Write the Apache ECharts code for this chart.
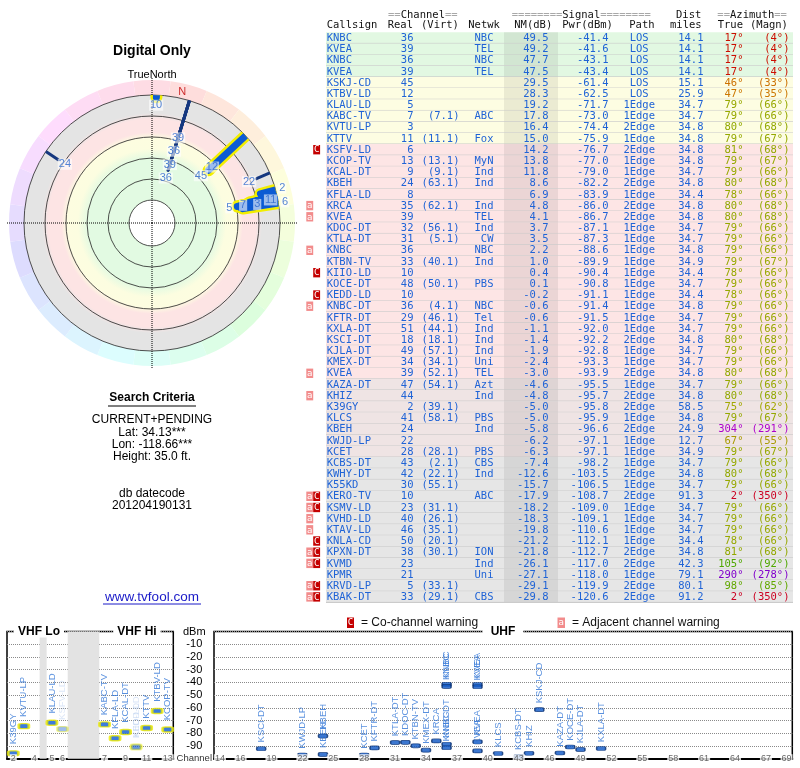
<!DOCTYPE html>
<html>
<head>
<meta charset="utf-8">
<title>Digital Only</title>
<script src="https://cdn.jsdelivr.net/npm/echarts@6/dist/echarts.min.js"></script>
<style>
html, body { margin: 0; padding: 0; background: #fff; }
#chart { width: 800px; height: 768px; }
</style>
</head>
<body>
<div id="chart"></div>
<script>
// one entry per table row, strongest first
var callsigns = ['KNBC','KVEA','KNBC','KVEA','KSKJ-CD','KTBV-LD','KLAU-LD','KABC-TV','KVTU-LP','KTTV',
  'KSFV-LD','KCOP-TV','KCAL-DT','KBEH','KFLA-LD','KRCA','KVEA','KDOC-DT','KTLA-DT','KNBC',
  'KTBN-TV','KIIO-LD','KOCE-DT','KEDD-LD','KNBC-DT','KFTR-DT','KXLA-DT','KSCI-DT','KJLA-DT','KMEX-DT',
  'KVEA','KAZA-DT','KHIZ','K39GY','KLCS','KBEH','KWJD-LP','KCET','KCBS-DT','KWHY-DT',
  'K55KD','KERO-TV','KSMV-LD','KVHD-LD','KTAV-LD','KNLA-CD','KPXN-DT','KVMD','KPMR','KRVD-LP','KBAK-DT'];
var realCh = [36,39,36,39,45,12,5,7,3,11, 6,13,9,24,8,35,39,32,31,36, 33,10,48,10,36,29,51,18,49,34,
  39,47,44,2,41,24,22,28,43,42, 30,10,23,40,46,50,38,23,21,5,33];
var virtCh = ['','','','','','','','7.1','','11.1', '','13.1','9.1','63.1','','62.1','','56.1','5.1','',
  '40.1','','50.1','','4.1','46.1','44.1','18.1','57.1','34.1', '52.1','54.1','','39.1','58.1','','','28.1','2.1','22.1',
  '55.1','','31.1','26.1','35.1','20.1','30.1','','','33.1','29.1'];
var networks = ['NBC','TEL','NBC','TEL','','','','ABC','','Fox', '','MyN','Ind','Ind','','Ind','TEL','Ind','CW','NBC',
  'Ind','','PBS','','NBC','Tel','Ind','Ind','Ind','Uni', 'TEL','Azt','Ind','','PBS','Ind','','PBS','CBS','Ind',
  '','ABC','','','','','ION','Ind','Uni','','CBS'];
var nmDb = [49.5,49.2,47.7,47.5,29.5,28.3,19.2,17.8,16.4,15.0, 14.2,13.8,11.8,8.6,6.9,4.8,4.1,3.7,3.5,2.2,
  1.0,0.4,0.1,-0.2,-0.6,-0.6,-1.1,-1.4,-1.9,-2.4, -3.0,-4.6,-4.8,-5.0,-5.0,-5.8,-6.2,-6.3,-7.4,-12.6,
  -15.7,-17.9,-18.2,-18.3,-19.8,-21.2,-21.8,-26.1,-27.1,-29.1,-29.8];
var pwrDbm = [-41.4,-41.6,-43.1,-43.4,-61.4,-62.5,-71.7,-73.0,-74.4,-75.9, -76.7,-77.0,-79.0,-82.2,-83.9,-86.0,-86.7,-87.1,-87.3,-88.6,
  -89.9,-90.4,-90.8,-91.1,-91.4,-91.5,-92.0,-92.2,-92.8,-93.3, -93.9,-95.5,-95.7,-95.8,-95.9,-96.6,-97.1,-97.1,-98.2,-103.5,
  -106.5,-108.7,-109.0,-109.1,-110.6,-112.1,-112.7,-117.0,-118.0,-119.9,-120.6];
var paths = ['LOS','LOS','LOS','LOS','LOS','LOS','1Edge','1Edge','2Edge','1Edge',
  '2Edge','1Edge','1Edge','2Edge','1Edge','2Edge','2Edge','1Edge','1Edge','1Edge',
  '1Edge','1Edge','1Edge','1Edge','1Edge','1Edge','1Edge','2Edge','1Edge','1Edge',
  '2Edge','1Edge','2Edge','2Edge','1Edge','2Edge','1Edge','1Edge','1Edge','2Edge',
  '1Edge','2Edge','1Edge','1Edge','1Edge','1Edge','2Edge','2Edge','1Edge','2Edge','2Edge'];
var distMi = [14.1,14.1,14.1,14.1,15.1,25.9,34.7,34.7,34.8,34.8, 34.8,34.8,34.7,34.8,34.4,34.8,34.8,34.7,34.7,34.8,
  34.9,34.4,34.7,34.4,34.8,34.7,34.7,34.8,34.7,34.7, 34.8,34.7,34.8,58.5,34.8,24.9,12.7,34.9,34.7,34.8,
  34.7,91.3,34.7,34.7,34.7,34.4,34.8,42.3,79.1,80.1,91.2];
var azTrue = [17,17,17,17,46,47,79,79,80,79, 81,79,79,80,78,80,80,79,79,79, 79,78,79,78,79,79,79,80,79,79,
  80,79,80,75,79,304,67,79,79,80, 79,2,79,79,79,78,81,105,290,98,2];
var azMagn = [4,4,4,4,33,35,66,66,68,67, 68,67,66,68,66,68,68,66,66,66, 67,66,66,66,66,66,66,68,66,66,
  68,66,68,62,67,291,55,67,66,68, 66,350,66,66,66,66,68,92,278,85,350];
var warnings = ['','','','','','','','','','', 'C','','','','','a','a','','','a', '','C','','C','a','','','','','',
  'a','','a','','','','','','','', '','aC','aC','a','a','C','aC','aC','','aC','aC'];

// channel labels printed along the spectrum axes
var vhfTicks = [2,4,5,6,7,9,11,13];
var uhfTicks = [14,16,19,22,25,28,31,34,37,40,43,46,49,52,55,58,61,64,67,69];

var DECL = 13;       // magnetic declination (deg)
var FLOOR_NM = -20;  // weakest NM shown on the radar
var GAP = 18;        // width given to the 88-174 MHz hole on the VHF axis

var BLUE = '#1f63d6';
var mono = '10.5px "DejaVu Sans Mono", monospace';
var sans = '"Liberation Sans", Arial, sans-serif';

function rpx(nm) { return 23 + (80 - nm) * 1.05; }   // same scale as radiusAxis 0
function vhfPos(ch) {
  var f = ch <= 4 ? 57 + 6 * (ch - 2) : ch <= 6 ? 79 + 6 * (ch - 5) : 177 + 6 * (ch - 7);
  return f <= 88 ? f : f - 174 + 88 + GAP;
}
function rowFill(nm) {
  if (nm >= 40) return '#e2f8e2';
  if (nm >= 14.5) return '#fdfde2';
  if (nm >= -3.5) return '#fde5e5';
  if (nm >= -7) return '#efe4e4';
  return '#e6e6e6';
}
function azColor(m) {
  var l = (m < 40 || m > 200) ? 40 : 33;
  return 'hsl(' + m + ',100%,' + l + '%)';
}

var chart = echarts.init(document.getElementById('chart'));

// ---------- table rows ----------
function renderRow(params, api) {
  var i = params.dataIndex;
  var yc = api.coord([0, i])[1];
  var h = api.size([0, 1])[1];
  var top = yc - h / 2;
  function X(v) { return api.coord([v, i])[0]; }
  function txt(s, x, align, color, font) {
    return { type: 'text', x: x, y: yc + 0.5, style: { text: s, fill: color || BLUE, font: font || mono,
      textAlign: align, align: align, textVerticalAlign: 'middle', verticalAlign: 'middle' } };
  }
  var kids = [
    { type: 'rect', shape: { x: X(326), y: top, width: X(793) - X(326), height: h }, style: { fill: rowFill(nmDb[i]) } },
    { type: 'rect', shape: { x: X(504), y: top, width: X(558) - X(504), height: h }, style: { fill: 'rgba(60,60,60,0.09)' } },
    { type: 'line', shape: { x1: X(326), y1: top + h, x2: X(793), y2: top + h }, style: { stroke: '#c8c8c8', lineWidth: 1 } },
    txt(callsigns[i], X(326.7), 'left'),
    txt(String(realCh[i]), X(413.5), 'right'),
    txt(virtCh[i] ? '(' + virtCh[i] + ')' : '', X(459.5), 'right'),
    txt(networks[i], X(493.5), 'right'),
    txt(nmDb[i].toFixed(1), X(548.5), 'right'),
    txt(pwrDbm[i].toFixed(1), X(608.5), 'right'),
    txt(paths[i], X(639.2), 'center'),
    txt(distMi[i].toFixed(1), X(703.5), 'right'),
    txt(azTrue[i] + '\u00b0', X(743.5), 'right', azColor(azMagn[i])),
    txt('(' + azMagn[i] + '\u00b0)', X(789.5), 'right', azColor(azMagn[i]))
  ];
  var w = warnings[i];
  if (w.indexOf('a') >= 0) {
    kids.push({ type: 'rect', shape: { x: X(306.3), y: yc - 4.6, width: 6.9, height: 9.4 }, style: { fill: '#f28c8c' } });
    kids.push(txt('a', X(309.7), 'center', '#fff', '9px "DejaVu Sans Mono"'));
  }
  if (w.indexOf('C') >= 0) {
    kids.push({ type: 'rect', shape: { x: X(313.2), y: yc - 4.6, width: 6.9, height: 9.4 }, style: { fill: '#c40000' } });
    kids.push(txt('C', X(316.7), 'center', '#fff', '9px "DejaVu Sans Mono"'));
  }
  return { type: 'group', children: kids };
}

// ---------- radar ----------
var drawn = [];
nmDb.forEach(function (v, i) { if (v >= FLOOR_NM) drawn.push(i); });

var radarSeries = [];
function polarLine(data, color, width, z) {
  return { type: 'line', coordinateSystem: 'polar', polarIndex: 0, data: data, symbol: 'none', silent: true,
    z: z, lineStyle: { color: color, width: width, cap: 'round' } };
}
drawn.forEach(function (i) {
  var d = [[nmDb[i], azTrue[i]], [FLOOR_NM, azTrue[i]]];
  if (realCh[i] <= 13) {
    radarSeries.push(polarLine(d, '#f2ee00', 12, 11));
    radarSeries.push(polarLine(d, '#0c5bd3', 7, 12));
  } else {
    radarSeries.push(polarLine(d, '#15377f', 3, 10));
  }
});

// channel numbers at the inner end of each ray, pushed outward when they collide
var placed = [];
drawn.forEach(function (i) {
  var r = rpx(nmDb[i]) - 8, moved = true;
  while (moved) {
    moved = false;
    placed.forEach(function (p) {
      if (Math.abs(p.az - azTrue[i]) < 6 && Math.abs(p.r - r) < 13) { r = p.r + 14; moved = true; }
    });
  }
  if (r <= 136) placed.push({ r: r, az: azTrue[i], ch: realCh[i] });
});

var hueSlices = [];
for (var k = 0; k < 24; k++) {
  hueSlices.push({ value: 1, itemStyle: { color: 'hsl(' + ((k * 15 - DECL + 360) % 360) + ',95%,93%)' } });
}

// ---------- spectrum ----------
var vhfMarks = [], uhfMarks = [];
callsigns.forEach(function (cs, i) {
  if (pwrDbm[i] < -100) return;
  var vhf = realCh[i] <= 13;
  var item = { name: cs, value: [vhf ? vhfPos(realCh[i]) : realCh[i], pwrDbm[i]] };
  if (warnings[i].indexOf('C') >= 0) {
    item.itemStyle = { opacity: 0.4 };
    item.label = { color: '#a6c0ea' };
  }
  (vhf ? vhfMarks : uhfMarks).push(item);
});

function specLabel(d) {
  return { show: true, formatter: '{b}', position: 'top', distance: d, rotate: 90, align: 'left',
    verticalAlign: 'middle', fontSize: 9.5, fontFamily: sans, color: '#2f74d6' };
}
function tickSeries(xi, ticks, pos) {
  return { type: 'scatter', xAxisIndex: xi, yAxisIndex: xi, silent: true, z: 20,
    data: ticks.map(function (c) { return [pos(c), -100, c]; }),
    symbolSize: 1, itemStyle: { color: 'transparent' },
    label: { show: true, position: 'inside', formatter: function (p) { return p.value[2]; },
      fontSize: 9, fontFamily: sans, color: '#444', backgroundColor: '#fff', padding: [0, 1, 0, 1] } };
}

function T(s, x, y, font, color, align, extra) {
  var el = { type: 'text', x: x, y: y, z: 100, silent: true,
    style: { text: s, font: font, fill: color || '#000', textAlign: align || 'center', align: align || 'center',
      textVerticalAlign: 'middle', verticalAlign: 'middle' } };
  if (extra) for (var key in extra) el.style[key] = extra[key];
  return el;
}
function L(x1, y1, x2, y2, color) {
  return { type: 'line', z: 100, silent: true, shape: { x1: x1, y1: y1, x2: x2, y2: y2 }, style: { stroke: color, lineWidth: 1 } };
}

var CW = 6.32, gray = '#a8a8a8';
var graphics = [
  T('Digital Only', 152, 51, 'bold 14px ' + sans),
  T('TrueNorth', 152, 75, '11px ' + sans),
  T('Search Criteria', 152, 398, 'bold 12px ' + sans),
  L(108, 406, 196, 406, '#000'),
  T('CURRENT+PENDING', 152, 419.5, '12px ' + sans),
  T('Lat: 34.13***', 152, 432.5, '12px ' + sans),
  T('Lon: -118.66***', 152, 445, '12px ' + sans),
  T('Height: 35.0 ft.', 152, 457, '12px ' + sans),
  T('db datecode', 152, 494, '12px ' + sans),
  T('201204190131', 152, 506, '12px ' + sans),
  T('www.tvfool.com', 152, 597.5, '13.5px ' + sans, '#1a1ac8'),
  L(103, 604, 201, 604, '#1a1ac8'),
  // table header
  T('==', 388, 15, mono, gray, 'left'), T('Channel', 400.7, 15, mono, '#111', 'left'), T('==', 400.7 + 7 * CW, 15, mono, gray, 'left'),
  T('========', 562.3 - 8 * CW, 15, mono, gray, 'left'), T('Signal', 562.3, 15, mono, '#111', 'left'), T('========', 562.3 + 6 * CW, 15, mono, gray, 'left'),
  T('Dist', 676, 15, mono, '#111', 'left'),
  T('==', 730 - 2 * CW, 15, mono, gray, 'left'), T('Azimuth', 730, 15, mono, '#111', 'left'), T('==', 730 + 7 * CW, 15, mono, gray, 'left'),
  T('Callsign', 326.7, 25.7, mono, '#111', 'left'), T('Real', 387.7, 25.7, mono, '#111', 'left'),
  T('(Virt)', 421, 25.7, mono, '#111', 'left'), T('Netwk', 468.3, 25.7, mono, '#111', 'left'),
  T('NM(dB)', 514.3, 25.7, mono, '#111', 'left'), T('Pwr(dBm)', 562.3, 25.7, mono, '#111', 'left'),
  T('Path', 629.3, 25.7, mono, '#111', 'left'), T('miles', 670, 25.7, mono, '#111', 'left'),
  T('True', 717.7, 25.7, mono, '#111', 'left'), T('(Magn)', 750, 25.7, mono, '#111', 'left'),
  // warning legend
  { type: 'rect', z: 100, shape: { x: 347, y: 617.5, width: 7, height: 10.5 }, style: { fill: '#c40000' } },
  T('C', 350.5, 623, '9px "DejaVu Sans Mono"', '#fff'),
  T('= Co-channel warning', 361, 623, '12px ' + sans, '#111', 'left'),
  { type: 'rect', z: 100, shape: { x: 557.5, y: 617.5, width: 7.5, height: 10.5 }, style: { fill: '#f28c8c' } },
  T('a', 561.2, 623, '9px "DejaVu Sans Mono"', '#fff'),
  T('= Adjacent channel warning', 572, 623, '12px ' + sans, '#111', 'left'),
  // band titles breaking the frame
  T('VHF Lo', 39, 631.6, 'bold 12px ' + sans, '#000', 'center', { backgroundColor: '#fff', padding: [0, 4, 0, 4] }),
  T('VHF Hi', 137, 631.6, 'bold 12px ' + sans, '#000', 'center', { backgroundColor: '#fff', padding: [0, 4, 0, 4] }),
  T('UHF', 503, 631.6, 'bold 12px ' + sans, '#000', 'center', { backgroundColor: '#fff', padding: [0, 8, 0, 8] })
];

var hidden = { axisLine: { show: false }, axisTick: { show: false }, axisLabel: { show: false }, splitLine: { show: false } };
function ax(o) { var r = {}; for (var a in hidden) r[a] = hidden[a]; for (var b in o) r[b] = o[b]; return r; }
var dotted = { show: true, lineStyle: { color: '#8a8a8a', type: 'dotted', width: 1 } };

var option = {
  animation: false,
  textStyle: { fontFamily: sans },
  graphic: { elements: graphics },
  polar: [
    { center: [152, 223], radius: [23, 128] },
    { center: [152, 223], radius: [0, 145] }
  ],
  angleAxis: [
    ax({ polarIndex: 0, type: 'value', min: 0, max: 360, startAngle: 90, clockwise: true }),
    ax({ polarIndex: 1, type: 'value', min: 0, max: 360, interval: 90, startAngle: 90, clockwise: true, z: 6,
      splitLine: { show: true, lineStyle: { color: '#000', type: 'dotted', width: 1 } } })
  ],
  radiusAxis: [
    ax({ polarIndex: 0, type: 'value', min: FLOOR_NM, max: 80, interval: 20, inverse: true, z: 5,
      splitLine: { show: true, lineStyle: { color: '#222', width: 0.8 } } }),
    ax({ polarIndex: 1, type: 'value', min: 0, max: 145 })
  ],
  grid: [
    { left: 0, top: 32.2, width: 800, height: 570.2, show: false },
    { left: 7, top: 631.6, width: 166.3, height: 127.1, show: true, borderColor: '#000', borderWidth: 1.5 },
    { left: 214, top: 631.6, width: 578.3, height: 127.1, show: true, borderColor: '#000', borderWidth: 1.5 }
  ],
  xAxis: [
    ax({ gridIndex: 0, type: 'value', min: 0, max: 800 }),
    ax({ gridIndex: 1, type: 'value', min: 53.4, max: 148.2,
      axisLine: { show: true, onZero: false, lineStyle: { color: '#000', width: 2 } } }),
    ax({ gridIndex: 2, type: 'value', min: 13.42, max: 69.56,
      axisLine: { show: true, onZero: false, lineStyle: { color: '#000', width: 2 } } })
  ],
  yAxis: [
    ax({ gridIndex: 0, type: 'category', inverse: true, data: callsigns.map(function (c, i) { return 'r' + i; }) }),
    ax({ gridIndex: 1, type: 'value', min: -100, max: 0, interval: 10, position: 'right', splitLine: dotted,
      axisLabel: { show: true, margin: 21, align: 'center', fontSize: 11, color: '#000',
        formatter: function (v) { return v === 0 ? 'dBm' : v === -100 ? '{c|Channel}' : String(v); },
        rich: { c: { fontSize: 9.5, color: '#333' } } } }),
    ax({ gridIndex: 2, type: 'value', min: -100, max: 0, interval: 10, splitLine: dotted })
  ],
  series: [
    { type: 'custom', xAxisIndex: 0, yAxisIndex: 0, renderItem: renderRow, silent: true, clip: false,
      data: callsigns.map(function (c, i) { return [0, i]; }) },
    { type: 'pie', center: [152, 223], radius: [23, 128], silent: true, z: 1, label: { show: false }, labelLine: { show: false },
      data: [{ value: 1, itemStyle: { color: { type: 'radial', x: 0.5, y: 0.5, r: 0.5, colorStops: [
        { offset: 0, color: '#e2fae2' }, { offset: 0.5, color: '#e2fae2' },
        { offset: 0.58, color: '#fcfde0' }, { offset: 0.66, color: '#fdfde0' },
        { offset: 0.71, color: '#fde4e4' }, { offset: 0.81, color: '#fde4e4' },
        { offset: 0.86, color: '#e4e4e4' }, { offset: 1, color: '#e4e4e4' }] } } }] },
    { type: 'pie', center: [152, 223], radius: [128, 143], startAngle: 97.5, silent: true, z: 1,
      label: { show: false }, labelLine: { show: false }, data: hueSlices }
  ].concat(radarSeries).concat([
    { type: 'scatter', coordinateSystem: 'polar', polarIndex: 1, silent: true, z: 15,
      data: placed.map(function (p) { return [p.r, p.az, p.ch]; }),
      symbolSize: 1, itemStyle: { color: 'transparent' },
      label: { show: true, position: 'inside', formatter: function (p) { return p.value[2]; },
        color: '#2a66cc', fontSize: 11, fontFamily: sans, backgroundColor: 'rgba(255,255,255,0.75)', padding: [0, 1, 0, 1] } },
    { type: 'scatter', coordinateSystem: 'polar', polarIndex: 1, silent: true, z: 15,
      data: [[134, DECL]], symbolSize: 1, itemStyle: { color: 'transparent' },
      label: { show: true, position: 'inside', formatter: 'N', color: '#c00000', fontSize: 11, fontFamily: sans } },
    { type: 'line', xAxisIndex: 1, yAxisIndex: 1, data: [], z: 1, silent: true,
      markArea: { silent: true, itemStyle: { color: '#e3e3e3' },
        data: [[{ xAxis: 72 }, { xAxis: 76 }], [{ xAxis: 88 }, { xAxis: 88 + GAP }]] } },
    { type: 'scatter', xAxisIndex: 1, yAxisIndex: 1, data: vhfMarks, z: 5, silent: true,
      symbol: 'roundRect', symbolSize: [10, 5],
      itemStyle: { color: '#0c5bd3', borderColor: '#ecea00', borderWidth: 2 }, label: specLabel(6) },
    { type: 'scatter', xAxisIndex: 2, yAxisIndex: 2, data: uhfMarks, z: 5, silent: true,
      symbol: 'roundRect', symbolSize: [9, 4],
      itemStyle: { color: '#0b55c4', borderColor: '#0a2f6e', borderWidth: 1 }, label: specLabel(4) },
    tickSeries(1, vhfTicks, vhfPos),
    tickSeries(2, uhfTicks, function (c) { return c; })
  ])
};

chart.setOption(option);
</script>
</body>
</html>
